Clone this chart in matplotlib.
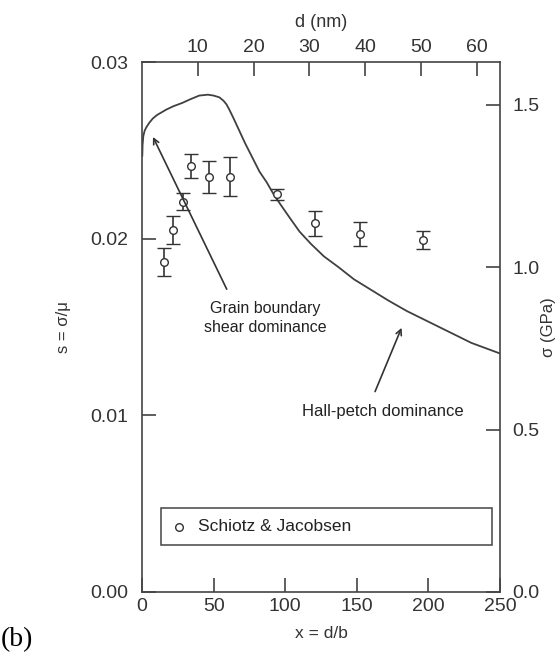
import numpy as np
import matplotlib
matplotlib.use("Agg")
import matplotlib.pyplot as plt
from matplotlib.patches import Rectangle

plt.rcParams['font.family'] = ['Liberation Sans', 'DejaVu Sans']

# shear modulus (GPa) and burgers vector (nm) linking the twin axes
mu = 54.4
b = 0.2568

# model curve
curve_x = [0.2, 0.4, 0.9, 1.8, 3, 5, 7.5, 10.5, 16.8, 22, 28, 34, 40, 46,
           50, 54, 57, 59, 61, 64, 68, 72, 77, 82, 87, 92, 97, 103, 110,
           118, 127, 137, 148, 160, 172, 185, 200, 215, 230, 250]
curve_s = [0.0247, 0.0253, 0.0258, 0.0261, 0.0263, 0.02655, 0.0268, 0.0270,
           0.0273, 0.0275, 0.02768, 0.0279, 0.0281, 0.02815, 0.0281, 0.0280,
           0.0278, 0.0276, 0.0273, 0.0268, 0.0261, 0.0254, 0.0246, 0.0238,
           0.0232, 0.0225, 0.0219, 0.0212, 0.0204, 0.0197, 0.0190, 0.0184,
           0.0177, 0.0171, 0.0165, 0.0159, 0.0153, 0.0147, 0.0141, 0.0135]

# Schiotz & Jacobsen simulation points
sj_x = [15.4, 21.7, 28.3, 34.1, 46.9, 61.4, 94.3, 121.1, 152.0, 196.3]
sj_s = [0.01868, 0.02049, 0.02210, 0.02411, 0.02351, 0.02351, 0.02251,
        0.02087, 0.02026, 0.01992]
sj_err = [0.0008, 0.0008, 0.0005, 0.0007, 0.0009, 0.0011, 0.0003,
          0.0007, 0.0007, 0.0005]

fig = plt.figure(figsize=(5.58, 6.61), dpi=100)
ax = fig.add_axes([0.2545, 0.1044, 0.6416, 0.8018])

ax.plot(curve_x, curve_s, color='#404040', lw=1.3)
ax.errorbar(sj_x, sj_s, yerr=sj_err, fmt='o', mfc='white', mec='#333333',
            ms=5.5, mew=1.0, ecolor='#333333', elinewidth=1.2, capsize=5,
            capthick=1.2)

ax.set_xlim(0, 250)
ax.set_ylim(0, 0.03)
ax.set_xticks([0, 50, 100, 150, 200, 250])
ax.set_yticks([0.0, 0.01, 0.02, 0.03])
ax.set_yticklabels(['0.00', '0.01', '0.02', '0.03'])
ax.tick_params(direction='in', length=10, width=1.1, labelsize=14,
               colors='#333333', pad=4)
ax.tick_params(axis='y', left=True, right=False, pad=10)
for sp in ax.spines.values():
    sp.set_linewidth(1.2)
    sp.set_color('#444444')

ax.set_xlabel('x = d/b', fontsize=12.5, color='#333333', labelpad=8)
ax.set_ylabel('s = σ/μ', fontsize=12, color='#333333', labelpad=14)

top = ax.secondary_xaxis('top', functions=(lambda x: x * b, lambda d: d / b))
top.set_xticks([10, 20, 30, 40, 50, 60])
top.tick_params(direction='in', length=10, width=1.1, labelsize=14,
                colors='#333333', pad=4)
top.set_xlabel('d (nm)', fontsize=13, color='#333333', labelpad=9)
top.spines['top'].set_visible(False)

right = ax.secondary_yaxis('right', functions=(lambda s: s * mu, lambda g: g / mu))
right.set_yticks([0.0, 0.5, 1.0, 1.5])
right.set_yticklabels(['0.0', '0.5', '1.0', '1.5'])
right.tick_params(direction='in', length=10, width=1.1, labelsize=14,
                  colors='#333333', pad=9)
right.set_ylabel('σ (GPa)', fontsize=12, color='#333333', labelpad=1)
right.spines['right'].set_visible(False)

# annotations
ax.annotate('', xy=(6.8, 0.0259), xytext=(60, 0.0170),
            arrowprops=dict(arrowstyle='->', color='#333333', lw=1.2))
ax.text(86, 0.0155, 'Grain boundary\nshear dominance', fontsize=11.5,
        color='#222222', ha='center', va='center', linespacing=1.35)
ax.annotate('', xy=(182, 0.0151), xytext=(162, 0.0112),
            arrowprops=dict(arrowstyle='->', color='#333333', lw=1.2))
ax.text(168, 0.0102, 'Hall-petch dominance', fontsize=12, color='#222222',
        ha='center', va='center')

# legend box
ax.add_patch(Rectangle((13.3, 0.00266), 231, 0.00209, fill=False,
                       ec='#444444', lw=1.1))
ax.plot([26], [0.0037], 'o', mfc='white', mec='#333333', ms=5.5, mew=1.0)
ax.text(39, 0.0037, 'Schiotz & Jacobsen', fontsize=12.5, color='#222222',
        va='center', ha='left')

fig.text(0.002, 0.032, '(b)', fontsize=20, family='Liberation Serif',
         color='black', ha='left', va='center')

fig.savefig('out.png', dpi=100)
